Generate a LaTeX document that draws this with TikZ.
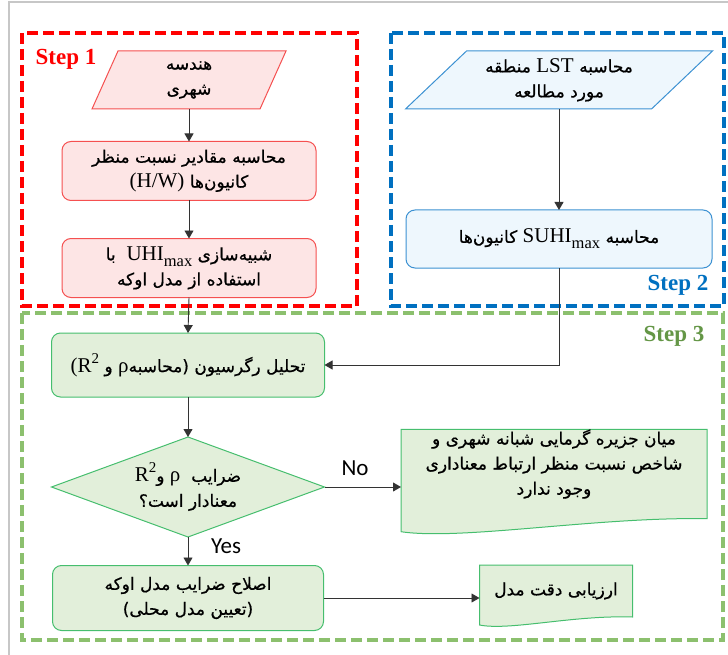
\documentclass[tikz,border=0pt]{standalone}
\usepackage{fontspec}
\setmainfont{Liberation Serif}
\newfontfamily\fafont[Script=Arabic,FakeBold=0.6]{DejaVu Sans}
\newfontfamily\calfont{Carlito}
\TeXXeTstate=1
\usetikzlibrary{shapes.geometric,arrows.meta,calc,backgrounds}
\definecolor{redframe}{RGB}{255,0,0}
\definecolor{blueframe}{RGB}{0,112,192}
\definecolor{greenframe}{RGB}{140,192,110}
\definecolor{steptxt}{RGB}{100,150,70}
\definecolor{pinkfill}{RGB}{253,229,229}
\definecolor{pinkline}{RGB}{245,80,80}
\definecolor{bluefill}{RGB}{238,247,253}
\definecolor{blueline}{RGB}{60,145,210}
\definecolor{greenfill}{RGB}{226,239,218}
\definecolor{greenline}{RGB}{70,190,110}
\newcommand\FA[1]{{\fafont\beginR #1\endR}}
\newcommand\LT[1]{\beginL{\rmfamily\fontsize{21}{25}\selectfont #1}\endL}
\newcommand\mx{\raisebox{-0.28em}{\fontsize{16.5}{16}\selectfont max}}
\newcommand\sq{\raisebox{0.42em}{\fontsize{15}{15}\selectfont 2}}
\begin{document}
\begin{tikzpicture}[x=1pt,y=-1pt,
  every node/.style={inner sep=0pt,outer sep=0pt},
  txt/.style={font=\fafont\fontsize{17}{25}\selectfont,align=center,text=black},
  frame/.style={line width=4pt,dash pattern=on 11pt off 5pt},
  pinkbox/.style={draw=pinkline,fill=pinkfill,line width=1pt},
  bluebox/.style={draw=blueline,fill=bluefill,line width=1pt},
  greenbox/.style={draw=greenline,fill=greenfill,line width=1pt},
  rbox/.style={rounded corners=9pt},
  arr/.style={draw=black!80,line width=0.9pt,-{Triangle[width=9pt,length=8pt]}},
  steplbl/.style={font=\rmfamily\bfseries\fontsize{23}{23}\selectfont},
  yn/.style={font=\calfont\fontsize{23}{23}\selectfont}]
\useasboundingbox (0,0) rectangle (728,655);
\draw[black!22,line width=1.5pt] (9,655) -- (9,2) -- (728,2);
% frames
\draw[frame,redframe] (22,33) rectangle (357,306);
\draw[frame,blueframe] (391,33) rectangle (724,306);
\draw[frame,greenframe] (22,313) rectangle (723,640);
\node[steplbl,text=redframe] (s1) at (66,59) {Step 1};
\node[steplbl,text=blueframe] (s2) at (678,285) {Step 2};
\node[steplbl,text=steptxt] (s3) at (674,336) {Step 3};
% step 1
\node[txt,minimum width=168pt,minimum height=58pt] (p1) at (189,80) {\FA{هندسه}\\\FA{شهری}};
\node[txt,pinkbox,rbox,minimum width=254pt,minimum height=59pt] (r1) at (189,171)
  {\FA{محاسبه مقادیر نسبت منظر}\\\FA{کانیون‌ها \LT{(H/W)}}};
\node[txt,pinkbox,rbox,minimum width=254pt,minimum height=59pt] (r2) at (189,268)
  {\FA{شبیه‌سازی \LT{UHI\mx}\ \ با}\\\FA{استفاده از مدل اوکه}};
% step 2
\node[txt,minimum width=246pt,minimum height=58pt] (p2) at (559,80) {\FA{محاسبه \LT{LST} منطقه}\\\FA{مورد مطالعه}};
\node[txt,bluebox,rbox,minimum width=306pt,minimum height=58pt] (b2) at (559,239)
  {\FA{محاسبه \LT{SUHI\mx} کانیون‌ها}};
% step 3
\node[txt,greenbox,rbox,minimum width=273pt,minimum height=64pt] (g1) at (188,365)
  {\FA{تحلیل رگرسیون (محاسبه\LT{ρ} و \LT{R\sq}\LT{(}}};
\node[txt,greenbox,diamond,aspect=2.73,minimum width=273pt,minimum height=100pt] (dia) at (188,487)
  {\FA{ضرایب \ \LT{ρ} و\LT{R\sq}}\\\FA{معنادار است؟}};
\node[txt,minimum width=306pt,minimum height=65pt] (d1) at (554,464)
  {\FA{میان جزیره گرمایی شبانه شهری و}\\\FA{شاخص نسبت منظر ارتباط معناداری}\\\FA{وجود ندارد}};
\node[txt,greenbox,rbox,minimum width=271pt,minimum height=65pt] (g2) at (188,598)
  {\FA{اصلاح ضرایب مدل اوکه}\\\FA{(تعیین مدل محلی)}};
\node[txt,minimum width=153pt,minimum height=52pt] (d2) at (556,591) {\FA{ارزیابی دقت مدل}};
\begin{scope}[on background layer]
\path[pinkbox] ($(p1.south west)+(-13,0)$) -- ($(p1.south east)+(-13,0)$) -- ($(p1.north east)+(13,0)$) -- ($(p1.north west)+(13,0)$) -- cycle;
\path[bluebox] ($(p2.south west)+(-30.5,0)$) -- ($(p2.south east)+(-30.5,0)$) -- ($(p2.north east)+(30.5,0)$) -- ($(p2.north west)+(30.5,0)$) -- cycle;
\path[greenbox] (d1.north west) -- (d1.north east) -- ($(d1.south east)+(0,20)$)
  .. controls ($(d1.south east)+(-110,18)$) and ($(d1.south west)+(60,42)$) .. ($(d1.south west)+(0,33)$) -- cycle;
\path[greenbox] (d2.north west) -- (d2.north east) -- (d2.south east)
  .. controls ($(d2.south east)+(-60,-2)$) and ($(d2.south west)+(30,14)$) .. ($(d2.south west)+(0,8)$) -- cycle;
\end{scope}
% connectors
\draw[arr] (p1.south) -- (r1.north);
\draw[arr] (r1.south) -- (r2.north);
\draw[arr] (r2.south) -- (g1.north);
\draw[arr] (p2.south) -- (b2.north);
\draw[arr] (b2.south) |- (g1.east);
\draw[arr] (g1.south) -- (dia.north);
\draw[arr] (dia.east) -- (dia.east -| d1.west);
\draw[arr] (dia.south) -- (g2.north);
\draw[arr] (g2.east) -- (g2.east -| d2.west);
\node[yn] (no) at (355,468) {No};
\node[yn] (yes) at (226,546) {Yes};
\end{tikzpicture}
\end{document}
